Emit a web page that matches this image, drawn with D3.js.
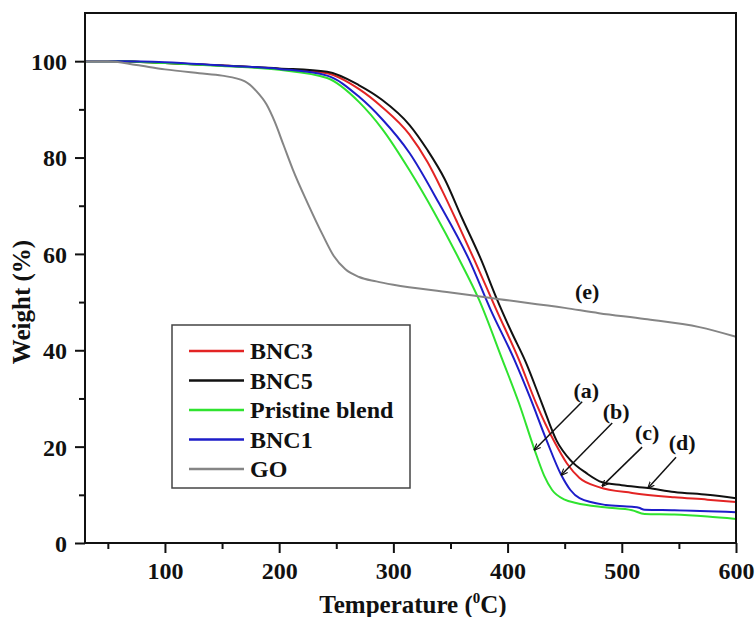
<!DOCTYPE html>
<html>
<head>
<meta charset="utf-8">
<script src="https://cdn.jsdelivr.net/npm/d3@7"></script>
<style>
  body { margin: 0; background: #fff; }
  svg text { font-family: "Liberation Serif", "Times New Roman", serif; font-weight: bold; fill: #111; }
  .axis path { display: none; }
  .axis line { stroke: #111; stroke-width: 2; }
</style>
</head>
<body>
<div class="chart"></div>
<script>
// series names in legend order
const seriesNames = ['BNC3', 'BNC5', 'Pristine blend', 'BNC1', 'GO']
const seriesColors = ['#e32424', '#111111', '#2fe32f', '#1d1dc9', '#858585']

// [temperature (C), weight (%)]
const bnc3 = [[30,100],[60,100],[100,99.6],[150,99.1],[200,98.4],[242,97.5],[270,94.2],[290,90.5],[314,84.8],[330,79],[342,73.5],[356,66.5],[371,58.7],[390,48.5],[410,38],[425,29],[441,21],[452,16.5],[463,13.5],[480,11.6],[509,10.4],[546,9.5],[575,9],[600,8.5]]
const bnc5 = [[30,100],[60,100],[100,99.6],[150,99.1],[200,98.5],[242,97.8],[270,95],[290,92],[314,86.8],[330,81.5],[345,75.5],[360,67.5],[377,58.7],[390,51],[403,44],[416,37.5],[430,29],[443,21.2],[455,17.2],[469,14.5],[483,12.6],[500,12],[523,11.4],[546,10.6],[575,10],[600,9.3]]
const pristine = [[30,100],[60,100],[100,99.6],[150,99],[200,98.2],[242,96.5],[270,91.5],[290,86],[314,77.4],[336,68.5],[358,58.7],[375,50.5],[395.5,38],[410,29],[423.4,19.5],[432,14],[439,11],[450,9],[460,8.3],[485,7.4],[509,6.8],[520,6],[546,5.9],[575,5.5],[600,5.0]]
const bnc1 = [[30,100],[60,100],[100,99.8],[150,99.1],[200,98.4],[242,97],[270,92.6],[290,88],[314,81],[340,70.5],[366.5,58.7],[385,48.5],[406,38],[420,30],[434,21.4],[447,14.1],[455,11],[463,9.3],[486,7.9],[509,7.5],[515,7.3],[520,6.9],[546,6.8],[600,6.4]]
const go = [[30,100],[50,100],[75,99.2],[100,98.3],[130,97.5],[150,97],[170,95.8],[180,93.8],[189,91],[196,87.5],[204,82.5],[212,77.5],[225,70.5],[238,64],[248,59.5],[258,56.8],[270,55.2],[285,54.3],[300,53.6],[350,52],[393,50.6],[450,48.8],[480,47.7],[520,46.5],[568,44.8],[600,42.8]]

const seriesData = [bnc3, bnc5, pristine, bnc1, go]

const xMajor = [100, 200, 300, 400, 500, 600]
const xMinor = [50, 150, 250, 350, 450, 550]
const yMajor = [0, 20, 40, 60, 80, 100]
const yMinor = [10, 30, 50, 70, 90]

// label, text (T, W), arrow start (T, W), arrow end (T, W)
const notes = [
  {label: '(a)', t: [468.9, 30.1], from: [465.3, 29.3], to: [423.4, 19.3]},
  {label: '(b)', t: [495.1, 25.7], from: [491.6, 24.9], to: [447, 14.1]},
  {label: '(c)', t: [522.2, 21.4], from: [517.8, 19.9], to: [482.8, 11.8]},
  {label: '(d)', t: [552.8, 19.3], from: [547.5, 17.8], to: [523, 11.4]},
  {label: '(e)', t: [469.7, 50.6]}
]

const width = 755, height = 617
const margin = {top: 13, right: 19, bottom: 74, left: 85}

let x = d3.scaleLinear().domain([30, 600]).range([margin.left, width - margin.right])
let y = d3.scaleLinear().domain([0, 110]).range([height - margin.bottom, margin.top])

let svg = d3.select('.chart').append('svg')
  .attr('width', width)
  .attr('height', height)

svg.append('defs').append('marker')
  .attr('id', 'arrow')
  .attr('viewBox', '0 0 10 10')
  .attr('refX', 9).attr('refY', 5)
  .attr('markerWidth', 7).attr('markerHeight', 7)
  .attr('markerUnits', 'userSpaceOnUse')
  .attr('orient', 'auto')
  .append('path')
  .attr('d', 'M0,1 L10,5 L0,9')
  .attr('fill', 'none')
  .attr('stroke', '#111')
  .attr('stroke-width', 1.6)

let line = d3.line()
  .x(d => x(d[0]))
  .y(d => y(d[1]))
  .curve(d3.curveMonotoneX)

let bottom = height - margin.bottom

// minor ticks
svg.append('g').attr('class', 'axis')
  .attr('transform', 'translate(0,' + bottom + ')')
  .call(d3.axisBottom(x).tickValues(xMinor).tickSize(6).tickFormat(''))

svg.append('g').attr('class', 'axis')
  .attr('transform', 'translate(' + margin.left + ',0)')
  .call(d3.axisLeft(y).tickValues(yMinor).tickSize(6).tickFormat(''))

// major ticks
let xaxis = svg.append('g').attr('class', 'axis')
  .attr('transform', 'translate(0,' + bottom + ')')
  .call(d3.axisBottom(x).tickValues(xMajor).tickSize(10))

xaxis.selectAll('text')
  .attr('y', 36).attr('dy', 0)
  .style('font-size', '24px')

let yaxis = svg.append('g').attr('class', 'axis')
  .attr('transform', 'translate(' + margin.left + ',0)')
  .call(d3.axisLeft(y).tickValues(yMajor).tickSize(10))

yaxis.selectAll('text')
  .attr('x', -18).attr('dy', '0.35em')
  .style('font-size', '24px')

// curves
svg.append('g')
  .selectAll('path')
  .data(seriesData)
  .join('path')
  .attr('d', line)
  .attr('fill', 'none')
  .attr('stroke', (d, i) => seriesColors[i])
  .attr('stroke-width', 2)

// frame
svg.append('rect')
  .attr('x', margin.left)
  .attr('y', margin.top)
  .attr('width', width - margin.left - margin.right)
  .attr('height', bottom - margin.top)
  .attr('fill', 'none')
  .attr('stroke', '#111')
  .attr('stroke-width', 2)

// annotations
notes.forEach(n => {
  svg.append('text')
    .attr('x', x(n.t[0]))
    .attr('y', y(n.t[1]))
    .attr('text-anchor', 'middle')
    .style('font-size', '22px')
    .text(n.label)

  if (n.from) {
    svg.append('line')
      .attr('x1', x(n.from[0])).attr('y1', y(n.from[1]))
      .attr('x2', x(n.to[0])).attr('y2', y(n.to[1]))
      .attr('stroke', '#111')
      .attr('stroke-width', 1.5)
      .attr('marker-end', 'url(#arrow)')
  }
})

// legend
let legend = svg.append('g').attr('transform', 'translate(172,325)')

legend.append('rect')
  .attr('width', 238)
  .attr('height', 163)
  .attr('fill', '#fff')
  .attr('stroke', '#444')
  .attr('stroke-width', 1.5)

let items = legend.selectAll('.item')
  .data(seriesNames)
  .join('g')
  .attr('class', 'item')
  .attr('transform', (d, i) => 'translate(0,' + (26 + i * 29.5) + ')')

items.append('line')
  .attr('x1', 17).attr('x2', 72)
  .attr('stroke', (d, i) => seriesColors[i])
  .attr('stroke-width', 2.5)

items.append('text')
  .attr('x', 78)
  .attr('dy', '0.35em')
  .style('font-size', '24px')
  .text(d => d)

// axis titles
let xt = svg.append('text')
  .attr('x', 413)
  .attr('y', 613)
  .attr('text-anchor', 'middle')
  .style('font-size', '25px')

xt.append('tspan').text('Temperature (')
xt.append('tspan').attr('dy', -10).style('font-size', '15px').text('0')
xt.append('tspan').attr('dy', 10).text('C)')

svg.append('text')
  .attr('transform', 'translate(30,302) rotate(-90)')
  .attr('text-anchor', 'middle')
  .style('font-size', '25px')
  .text('Weight (%)')
</script>
</body>
</html>
